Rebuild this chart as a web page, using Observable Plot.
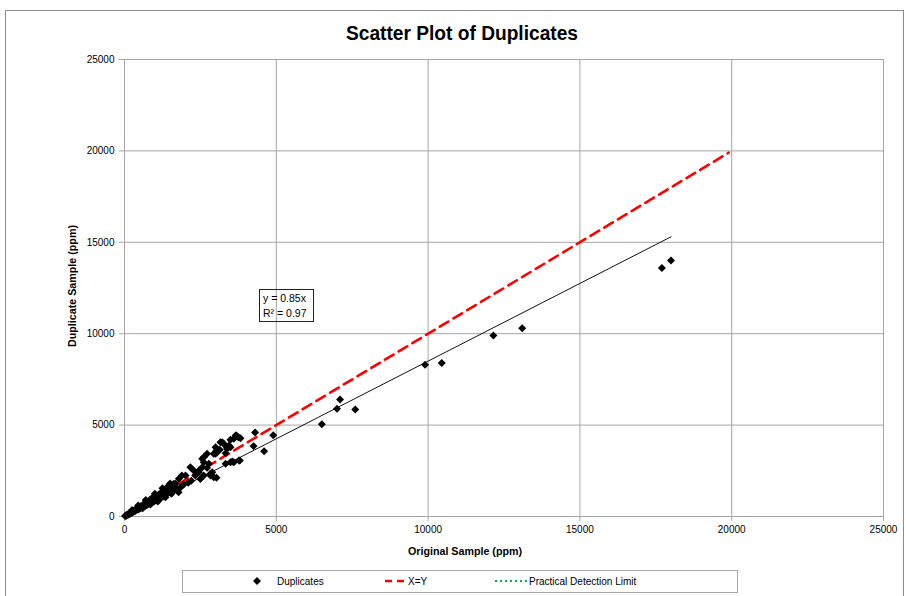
<!DOCTYPE html>
<html>
<head>
<meta charset="utf-8">
<script src="https://cdn.jsdelivr.net/npm/d3@7"></script>
<script src="https://cdn.jsdelivr.net/npm/@observablehq/plot@0.6"></script>
<style>
  html, body { margin: 0; padding: 0; background: #fff; }
  #chart { position: relative; width: 906px; height: 596px; overflow: hidden; }
  svg { display: block; font-family: "Liberation Sans", Arial, sans-serif; }
</style>
</head>
<body>
<div id="chart"></div>
<script>
// Original sample (ppm) and duplicate sample (ppm)
const originalPpm = [20,40,60,80,100,120,140,160,180,200,230,250,280,300,320,350,380,400,420,450,480,500,530,560,600,620,650,680,700,730,760,800,830,860,900,920,950,980,1000,1030,1060,1100,1130,1160,1200,1230,1260,1300,1330,1360,1400,1450,1480,1520,1560,1600,1625,1680,1720,1780,1790,1850,1890,1950,2010,2100,2170,2200,2280,2330,2450,2450,2500,2560,2560,2610,2610,2610,2720,2720,2780,2830,2830,2890,2940,2940,3000,3030,3030,3050,3000,3140,3160,3220,3270,3330,3330,3380,3380,3440,3490,3490,3490,3550,3600,3600,3660,3690,3750,3770,3800,3820,4250,4300,4600,4900,6500,7000,7100,7600,9900,10450,12150,13100,17700,18000,
  250,450,600,700,850,1000,1100,1250,1350,1500,1550];
const duplicatePpm = [30,50,40,90,110,100,150,140,200,170,240,210,300,260,340,300,390,350,450,380,500,430,560,480,620,540,700,590,760,620,800,680,900,720,1000,760,950,830,1080,870,1150,930,1200,980,1300,1050,1350,1120,1420,1180,1600,1420,1550,1300,1700,1400,1790,1790,1515,1330,2060,1600,2240,1750,2240,1850,2700,1950,2520,2240,2420,2520,2050,2700,3160,2970,3240,2240,2660,3430,2880,2240,2340,2420,2150,3430,3430,3610,2120,3520,3790,3650,4065,4065,3980,2880,3460,3700,3790,3880,3790,4200,2970,3010,2970,4250,4430,4430,4340,3060,3060,4280,3850,4600,3570,4450,5050,5900,6400,5850,8300,8400,9900,10300,13600,14000,
  350,600,450,900,650,1250,820,1550,1050,1800,1250];

// Reference lines
const trendSlope = 0.85;          // y = 0.85x, R² = 0.97
const trendX = [0, 18000];
const equalX = [0, 19900];        // X=Y line
const axisTicks = [0, 5000, 10000, 15000, 20000, 25000];

const points = originalPpm.map((x, i) => ({x, y: duplicatePpm[i]}));
const trend = trendX.map(x => ({x, y: x * trendSlope}));
const equal = equalX.map(x => ({x, y: x}));

const gridColor = "#a6a6a6";

const svg = Plot.plot({
  width: 906,
  height: 596,
  marginLeft: 124,
  marginRight: 23,
  marginTop: 59,
  marginBottom: 80,
  style: {fontFamily: "'Liberation Sans', Arial, sans-serif", fontSize: "10px", color: "#000", background: "#fff"},
  x: {domain: [0, 25000]},
  y: {domain: [0, 25000]},
  marks: [
    Plot.gridX(axisTicks, {stroke: gridColor, strokeOpacity: 1}),
    Plot.gridY(axisTicks, {stroke: gridColor, strokeOpacity: 1}),
    Plot.axisX(axisTicks, {tickSize: 5, tickPadding: 4, tickFormat: "d", label: null, stroke: gridColor, fill: "#000"}),
    Plot.axisY(axisTicks, {tickSize: 5, tickPadding: 5, tickFormat: "d", label: null, stroke: gridColor, fill: "#000"}),
    Plot.line(equal, {x: "x", y: "y", stroke: "#ff0000", strokeWidth: 2.6, strokeDasharray: "10,6"}),
    Plot.line(trend, {x: "x", y: "y", stroke: "#111", strokeWidth: 1}),
    Plot.dot(points, {x: "x", y: "y", symbol: "diamond2", r: 3.6, fill: "#000", stroke: "none"})
  ]
});

const s = d3.select(svg);

// Outer chart frame
s.insert("rect", ":first-child")
  .attr("x", 5.5).attr("y", 10.5).attr("width", 898).attr("height", 620)
  .attr("fill", "#fff").attr("stroke", "#8c8c8c");

// Title
s.append("text").attr("x", 462).attr("y", 40).attr("text-anchor", "middle")
  .attr("font-size", 20).attr("font-weight", "bold")
  .attr("textLength", 232).attr("lengthAdjust", "spacingAndGlyphs")
  .text("Scatter Plot of Duplicates");

// Axis titles
s.append("text").attr("x", 465).attr("y", 555).attr("text-anchor", "middle")
  .attr("font-size", 10).attr("font-weight", "bold")
  .attr("textLength", 114).attr("lengthAdjust", "spacingAndGlyphs")
  .text("Original Sample (ppm)");
s.append("text").attr("transform", "translate(76,286) rotate(-90)").attr("text-anchor", "middle")
  .attr("font-size", 10).attr("font-weight", "bold")
  .attr("textLength", 122).attr("lengthAdjust", "spacingAndGlyphs")
  .text("Duplicate Sample (ppm)");

// Equation box
s.append("rect").attr("x", 259.5).attr("y", 289.5).attr("width", 54).attr("height", 32)
  .attr("fill", "none").attr("stroke", "#222");
s.append("text").attr("x", 263).attr("y", 302).attr("text-anchor", "start").attr("font-size", 10.5).text("y = 0.85x");
s.append("text").attr("x", 263).attr("y", 317).attr("text-anchor", "start").attr("font-size", 10.5).text("R² = 0.97");

// Legend
const lg = s.append("g").attr("text-anchor", "start");
lg.append("rect").attr("x", 182.5).attr("y", 570.5).attr("width", 555).attr("height", 22)
  .attr("fill", "#fff").attr("stroke", gridColor);
lg.append("path").attr("d", "M257,577 L261,581 L257,585 L253,581 Z").attr("fill", "#000");
lg.append("text").attr("x", 277).attr("y", 585).attr("font-size", 10).text("Duplicates");
lg.append("line").attr("x1", 385).attr("x2", 404).attr("y1", 581).attr("y2", 581)
  .attr("stroke", "#ff0000").attr("stroke-width", 2.6).attr("stroke-dasharray", "7,5");
lg.append("text").attr("x", 408).attr("y", 585).attr("font-size", 10).text("X=Y");
lg.append("line").attr("x1", 495).attr("x2", 527).attr("y1", 581).attr("y2", 581)
  .attr("stroke", "#00b050").attr("stroke-width", 2).attr("stroke-dasharray", "2,3");
lg.append("text").attr("x", 529).attr("y", 585).attr("font-size", 10).text("Practical Detection Limit");

document.getElementById("chart").appendChild(svg);
</script>
</body>
</html>
